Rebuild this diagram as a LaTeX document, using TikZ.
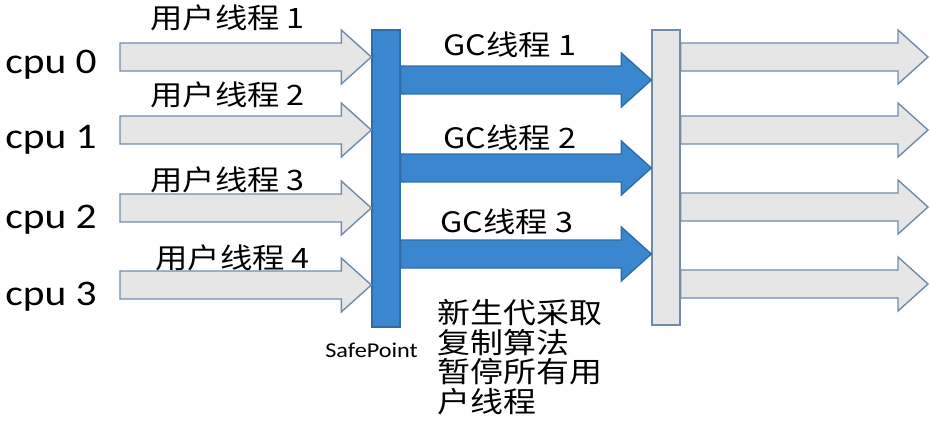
\documentclass[tikz,border=0pt]{standalone}
\usepackage{fontspec}
\setmainfont[FakeStretch=1.15]{Carlito}
\newfontfamily\cjk[FakeStretch=1.15]{Noto Sans CJK SC}
\usepackage{xcolor}
\usetikzlibrary{calc, positioning}

\definecolor{spblue}{HTML}{3A87CF}
\definecolor{spedge}{HTML}{2F6DA8}
\definecolor{thrgray}{HTML}{E6E6E6}
\definecolor{thredge}{HTML}{6F8CAB}

\begin{document}
\begin{tikzpicture}[
    x=0.02cm, y=-0.02cm,
    cpulbl/.style={anchor=base west, inner sep=0, font=\fontsize{20.5}{24}\selectfont},
    thrlbl/.style={anchor=base west, inner sep=0, font=\cjk\fontsize{16}{19}\selectfont},
    note/.style={anchor=north west, inner sep=0, align=left, font=\cjk\fontsize{16.3}{16.8}\selectfont},
    bar/.style={draw, line width=0.8pt, minimum width=0.56cm, inner sep=0},
    fatarrow/.style={line width=0.8pt, to path={
        let \p1=(\tikztostart), \p2=(\tikztotarget) in
        (\x1,\y1+0.28cm) -- (\x2-0.6cm,\y1+0.28cm) -- (\x2-0.6cm,\y1+0.54cm) -- (\x2,\y1)
        -- (\x2-0.6cm,\y1-0.54cm) -- (\x2-0.6cm,\y1-0.28cm) -- (\x1,\y1-0.28cm) -- cycle}},
    userarrow/.style={fatarrow, fill=thrgray, draw=thredge},
    gcarrow/.style={fatarrow, fill=spblue, draw=spedge},
]
\useasboundingbox (0,0) rectangle (931,423);

% the two barriers
\node[bar, fill=spblue, draw=spedge, minimum height=5.94cm] (sp) at (386,178.5) {};
\node[bar, fill=thrgray, draw=thredge, minimum height=5.9cm] (gcbar) at (666,177.5) {};
\node[anchor=base west, inner sep=0, font=\fontsize{12}{14}\selectfont] (splbl) at (325,357) {SafePoint};

% cpus and user threads
\node[cpulbl] (cpu0) at (5,73) {cpu 0};
\node[cpulbl] (cpu1) at (5,148) {cpu 1};
\node[cpulbl] (cpu2) at (5,228) {cpu 2};
\node[cpulbl] (cpu3) at (5,305) {cpu 3};

\coordinate (u0) at (120,57);
\coordinate (u1) at (120,130);
\coordinate (u2) at (120,208);
\coordinate (u3) at (120,285);
\draw[userarrow] (u0) to (sp.west |- u0);
\draw[userarrow] (u1) to (sp.west |- u1);
\draw[userarrow] (u2) to (sp.west |- u2);
\draw[userarrow] (u3) to (sp.west |- u3);

\node[thrlbl] (ut1) at (150,28) {用户线程 1};
\node[thrlbl] (ut2) at (150,105) {用户线程 2};
\node[thrlbl] (ut3) at (150,190) {用户线程 3};
\node[thrlbl] (ut4) at (155,268) {用户线程 4};

% gc threads
\coordinate (g1) at (0,80);
\coordinate (g2) at (0,168);
\coordinate (g3) at (0,254);
\draw[gcarrow] (sp.east |- g1) to (gcbar.west |- g1);
\draw[gcarrow] (sp.east |- g2) to (gcbar.west |- g2);
\draw[gcarrow] (sp.east |- g3) to (gcbar.west |- g3);

\node[thrlbl] (gt1) at (443,55) {GC线程 1};
\node[thrlbl] (gt2) at (443,148) {GC线程 2};
\node[thrlbl] (gt3) at (440,232) {GC线程 3};

\node[note] (gcnote) at (437,299) {新生代采取\\复制算法\\暂停所有用\\户线程};

% user threads resume
\coordinate (r0) at (928,57);
\coordinate (r1) at (928,130);
\coordinate (r2) at (928,207);
\coordinate (r3) at (928,284);
\draw[userarrow] (gcbar.east |- r0) to (r0);
\draw[userarrow] (gcbar.east |- r1) to (r1);
\draw[userarrow] (gcbar.east |- r2) to (r2);
\draw[userarrow] (gcbar.east |- r3) to (r3);
\end{tikzpicture}
\end{document}
